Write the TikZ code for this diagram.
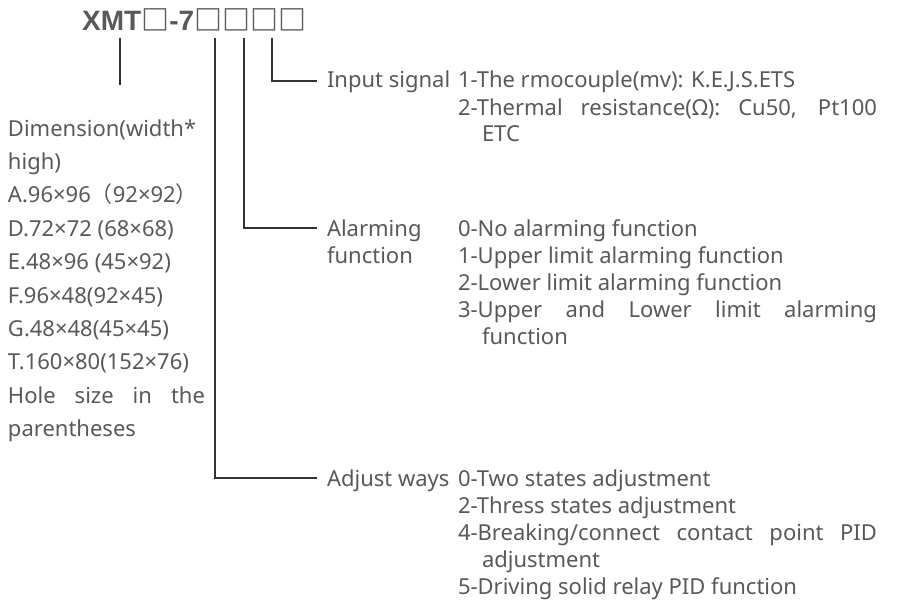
\documentclass[tikz,border=0pt]{standalone}
\usepackage{fontspec}
\setmainfont{Noto Sans}
\newfontfamily\titlefont{Liberation Sans}
\newfontfamily\cjkfont{Noto Sans CJK SC}
\definecolor{txt}{HTML}{595959}
\definecolor{ln}{HTML}{333333}
\tikzset{
  lbl/.style={anchor=base west, inner sep=0pt, outer sep=0pt, text=txt, font=\fontsize{22}{26}\selectfont},
  conn/.style={draw=ln, line width=1.2pt},
}
\newcommand{\jline}[2]{\makebox[#1][s]{#2}}
\begin{document}
\begin{tikzpicture}[x=1pt,y=-1pt]
\useasboundingbox[fill=white] (0,0) rectangle (898,602);
% title
\node[anchor=base west, inner sep=0pt, text=txt, font=\fontsize{28}{30}\selectfont] (title) at (82,31)
  {\titlefont\bfseries XMT\cjkfont □\titlefont\bfseries -7\cjkfont □□□□};
\coordinate (t0) at (120,38);
\coordinate (t1) at (215,38);
\coordinate (t2) at (244,38);
\coordinate (t3) at (272,38);
\coordinate (t0e) at (120,85);
% left column
\node[lbl] (d0) at (8,136) {Dimension(width*};
\node[lbl] (d1) at (8,169.4) {high)};
\node[lbl] (d2) at (8,202.8) {A.96×96{\cjkfont （}92×92{\cjkfont ）}};
\node[lbl] (d3) at (8,236.2) {D.72×72 (68×68)};
\node[lbl] (d4) at (8,269.6) {E.48×96 (45×92)};
\node[lbl] (d5) at (8,303) {F.96×48(92×45)};
\node[lbl] (d6) at (8,336.4) {G.48×48(45×45)};
\node[lbl] (d7) at (8,369.8) {T.160×80(152×76)};
\node[lbl] (d8) at (8,403.2) {\jline{197pt}{Hole size in the}};
\node[lbl] (d9) at (8,436.6) {parentheses};
% input signal
\node[lbl] (in) at (327,88) {Input signal};
\node[lbl] (in1) at (458,88) {1-The rmocouple(mv): K.E.J.S.ETS};
\node[lbl] (in2) at (458,115) {\jline{419pt}{2-Thermal resistance(Ω): Cu50, Pt100}};
\node[lbl] (in3) at (482,142) {ETC};
% alarming
\node[lbl] (al) at (327,236) {Alarming};
\node[lbl] (alb) at (327,263) {function};
\node[lbl] (al0) at (458,236) {0-No alarming function};
\node[lbl] (al1) at (458,263) {1-Upper limit alarming function};
\node[lbl] (al2) at (458,290) {2-Lower limit alarming function};
\node[lbl] (al3) at (458,317) {\jline{419pt}{3-Upper and Lower limit alarming}};
\node[lbl] (al4) at (482,344) {function};
% adjust
\node[lbl] (ad) at (327,486) {Adjust ways};
\node[lbl] (ad0) at (458,486) {0-Two states adjustment};
\node[lbl] (ad1) at (458,513) {2-Thress states adjustment};
\node[lbl] (ad2) at (458,540) {\jline{419pt}{4-Breaking/connect contact point PID}};
\node[lbl] (ad3) at (482,567) {adjustment};
\node[lbl] (ad4) at (458,594) {5-Driving solid relay PID function};
% connector ends
\coordinate (e3) at (317,81);
\coordinate (e2) at (317,228);
\coordinate (e1) at (317,478);
% connectors
\draw[conn] (t0) -- (t0e);
\draw[conn] (t3) |- (e3);
\draw[conn] (t2) |- (e2);
\draw[conn] (t1) |- (e1);
\end{tikzpicture}
\end{document}
